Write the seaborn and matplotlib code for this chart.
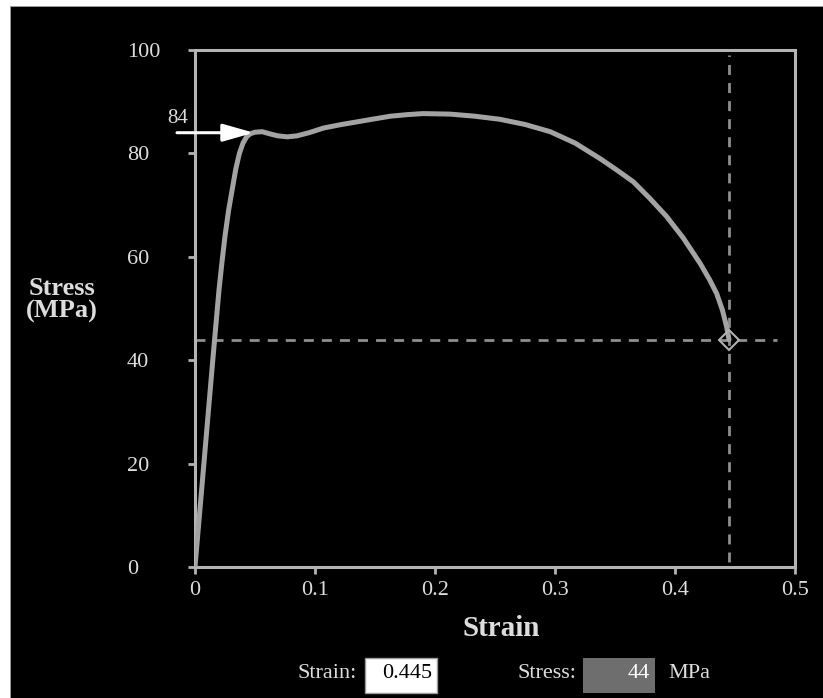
import matplotlib
matplotlib.use("Agg")
import matplotlib.pyplot as plt
from matplotlib.patches import Rectangle
import seaborn as sns
import pandas as pd

# ---- data ----
strain = [0, 0.005, 0.010, 0.015, 0.020, 0.0225, 0.025, 0.028, 0.031, 0.034,
          0.037, 0.040, 0.043, 0.046, 0.050, 0.056, 0.062, 0.069, 0.077, 0.085,
          0.095, 0.107, 0.120, 0.135, 0.150, 0.163, 0.177, 0.190, 0.2125, 0.233,
          0.254, 0.275, 0.296, 0.3167, 0.3375, 0.3514, 0.3653, 0.379, 0.393, 0.407,
          0.421, 0.429, 0.4347, 0.4395, 0.443, 0.445]
stress = [0, 13.5, 27, 40.5, 53.6, 59, 64, 69, 73, 77,
          80, 82, 83.2, 83.8, 84.1, 84.2, 83.8, 83.4, 83.2, 83.4,
          84.0, 84.9, 85.5, 86.1, 86.7, 87.2, 87.5, 87.7, 87.6, 87.2,
          86.6, 85.6, 84.2, 82.0, 79.0, 76.8, 74.5, 71.3, 67.8, 63.6,
          58.7, 55.5, 52.9, 49.7, 46.5, 44]
x_ticks = [0, 0.1, 0.2, 0.3, 0.4, 0.5]
x_tick_labels = ["0", "0.1", "0.2", "0.3", "0.4", "0.5"]
y_ticks = [0, 20, 40, 60, 80, 100]
y_tick_labels = ["0", "20", "40", "60", "80", "100"]
yield_stress = 84
sel_strain = 0.445
sel_stress = 44

df = pd.DataFrame({"Strain": strain, "Stress": stress})

sns.set_theme(style="dark")
plt.rcParams["font.family"] = ["Liberation Serif", "DejaVu Serif"]

W, H = 823, 698
fig = plt.figure(figsize=(W / 100, H / 100), dpi=100, facecolor="black")

def fx(px):
    return px / W

def fy(py):
    return 1 - py / H

# white margins
fig.patches.append(Rectangle((0, 0), fx(10), 1, transform=fig.transFigure,
                             facecolor="white", edgecolor="none", zorder=0))
fig.patches.append(Rectangle((0, fy(6)), 1, 6 / H, transform=fig.transFigure,
                             facecolor="white", edgecolor="none", zorder=0))
fig.patches.append(Rectangle((fx(10), 0), 1.2 / W, fy(6), transform=fig.transFigure,
                             facecolor="#9a9a9a", edgecolor="none", zorder=0))
fig.patches.append(Rectangle((fx(10), fy(7.2)), 1, 1.2 / H, transform=fig.transFigure,
                             facecolor="#9a9a9a", edgecolor="none", zorder=0))

ax = fig.add_axes([fx(195), fy(567), (795 - 195) / W, (567 - 50) / H])
ax.set_facecolor("black")

sns.lineplot(data=df, x="Strain", y="Stress", ax=ax, color="#a3a3a3",
             linewidth=3.6, solid_capstyle="round", zorder=3)
for ln in ax.lines:
    ln.set_solid_joinstyle("round")

# dashed guide lines
ax.axvline(sel_strain, ymin=0.01, ymax=0.99, color="#8e8e8e", lw=2,
           dashes=(3.6, 2.9), zorder=2)
ax.axhline(sel_stress, xmin=0.0, xmax=0.97, color="#8e8e8e", lw=2,
           dashes=(3.6, 2.9), zorder=2)
ax.plot([sel_strain], [sel_stress], marker="D", markersize=10,
        markerfacecolor="none", markeredgecolor="#b0b0b0", markeredgewidth=1.5,
        zorder=4)

# yield arrow
ax.annotate("", xy=(0.049, yield_stress), xytext=(-0.015, yield_stress),
            arrowprops=dict(arrowstyle="-|>,head_length=0.95,head_width=0.27",
                            color="white", lw=2.2, mutation_scale=20,
                            shrinkA=0, shrinkB=0),
            annotation_clip=False, zorder=5)
ax.text(-0.0145, 86.8, str(yield_stress), color="#dddddd", fontsize=15,
        ha="center", va="center", clip_on=False)

ax.set_xlim(0, 0.5)
ax.set_ylim(0, 100)
ax.set_xticks(x_ticks)
ax.set_xticklabels(x_tick_labels)
ax.set_yticks(y_ticks)
ax.set_yticklabels(y_tick_labels)
ax.set_xlabel("")
ax.set_ylabel("")
ax.grid(False)

for s in ax.spines.values():
    s.set_visible(True)
    s.set_color("#b4b4b4")
    s.set_linewidth(2.2)

ax.tick_params(axis="both", colors="#b4b4b4", direction="out", length=5,
               width=2, labelcolor="#dddddd", labelsize=16)
ax.tick_params(axis="x", pad=5, bottom=True)
ax.tick_params(axis="y", pad=44, left=True)
for lab in ax.get_yticklabels():
    lab.set_horizontalalignment("left")

# axis titles
fig.text(fx(501), fy(628), "Strain", color="#dddddd", fontsize=21,
         fontweight="bold", ha="center", va="center")
fig.text(fx(62), fy(300), "Stress\n(MPa)", color="#dddddd", fontsize=19,
         fontweight="bold", ha="center", va="center", linespacing=1.0)

# bottom readout widgets
fig.text(fx(357), fy(673), "Strain:", color="#dddddd", fontsize=16,
         ha="right", va="center")
fig.patches.append(Rectangle((fx(365), fy(693)), (437 - 365) / W, (693 - 658) / H,
                             transform=fig.transFigure, facecolor="white",
                             edgecolor="#999999", lw=1, zorder=1))
fig.text(fx(432), fy(673), f"{sel_strain:.3f}", color="black", fontsize=16,
         ha="right", va="center")
fig.text(fx(576), fy(673), "Stress:", color="#dddddd", fontsize=16,
         ha="right", va="center")
fig.patches.append(Rectangle((fx(583), fy(693)), (655 - 583) / W, (693 - 658) / H,
                             transform=fig.transFigure, facecolor="#6e6e6e",
                             edgecolor="none", zorder=1))
fig.text(fx(650), fy(673), f"{sel_stress}", color="white", fontsize=16,
         ha="right", va="center")
fig.text(fx(668), fy(673), "MPa", color="#dddddd", fontsize=16,
         ha="left", va="center")

fig.savefig("out.png", dpi=100, facecolor=fig.get_facecolor())
